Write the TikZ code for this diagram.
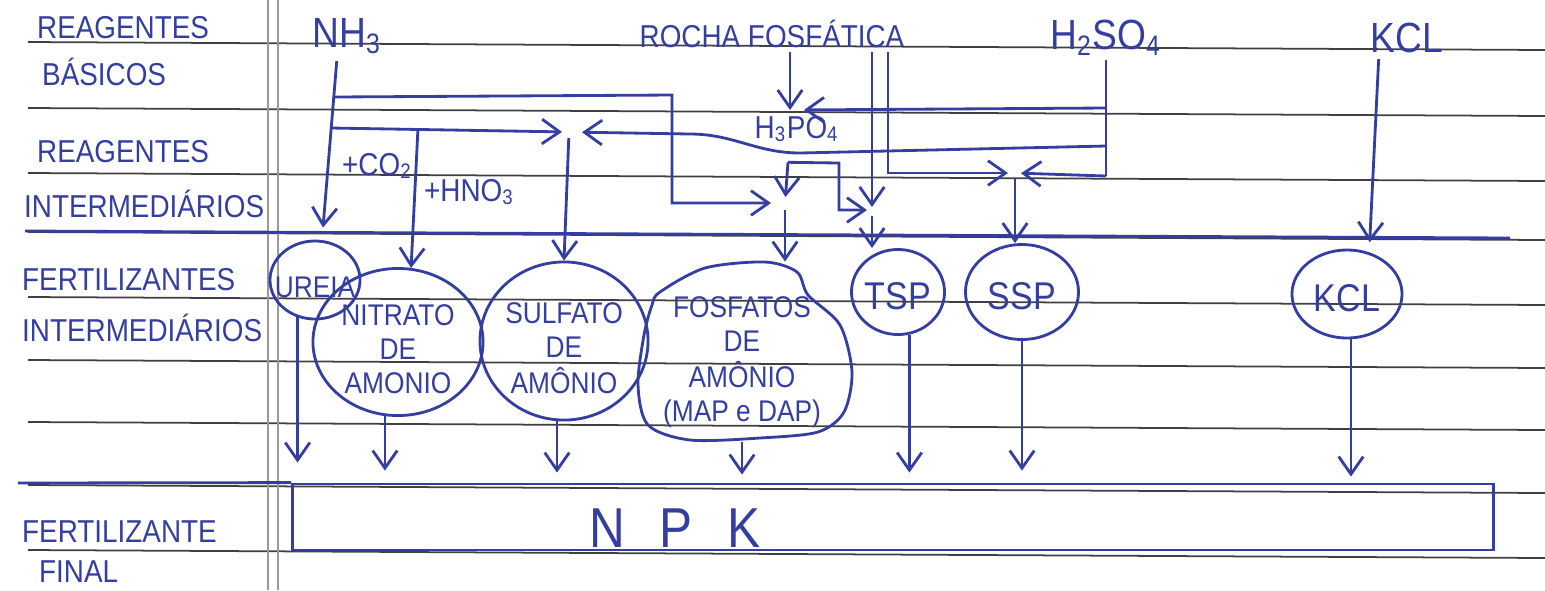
\documentclass[tikz,border=0pt]{standalone}
\usepackage{fontspec}
\setmainfont{Liberation Sans}[FakeStretch=0.88]
\usepackage{tikz}
\usetikzlibrary{calc,arrows.meta,shapes.geometric}
\definecolor{tinta}{RGB}{52,62,160}
\def\dentro#1{\smash{\makebox[0pt]{\raisebox{-5pt}{\begin{tabular}{@{}c@{}}#1\end{tabular}}}}}

\begin{document}
\begin{tikzpicture}[x=0.01cm, y=-0.01cm,
		pauta/.style={line width=0.5pt, color=black!75},
		margem/.style={line width=0.4pt, color=black!40},
		caneta/.style={line width=0.8pt, color=tinta},
		seta/.style={caneta, -{Straight Barb[length=5pt,width=7pt]}},
		rotulo/.style={text=tinta, inner sep=1pt, font=\fontsize{9}{11}\selectfont},
		quimico/.style={text=tinta, inner sep=1pt, font=\fontsize{12}{14}\selectfont},
		bola/.style={caneta, draw, ellipse, inner sep=0pt, font=\fontsize{8.5}{9.6}\selectfont},
		bolagrande/.style={bola, font=\fontsize{11}{13}\selectfont}]
		%%%%% START %%%%%
		
		\useasboundingbox (0,0) rectangle (1545,590);
		
		\foreach \y in {42,108,173,232,297,360,422,485,550}
			\draw[pauta] (28,\y) -- (1545,\y+8);
		\draw[margem] (268,0) -- (268,590);
		\draw[margem] (278,0) -- (278,590);
		\draw[caneta] (25,231) -- (1510,238);
		
		\node[rotulo, anchor=west] (reag1) at (33,28) {REAGENTES};
		\node[rotulo, anchor=west] (basicos) at (38,72) {BÁSICOS};
		\node[rotulo, anchor=west] (reag2) at (33,152) {REAGENTES};
		\node[rotulo, anchor=west] (interm1) at (20,204) {INTERMEDIÁRIOS};
		\node[rotulo, anchor=west] (fert1) at (18,280) {FERTILIZANTES};
		\node[rotulo, anchor=west] (interm2) at (18,328) {INTERMEDIÁRIOS};
		\node[rotulo, anchor=west] (fert2) at (18,532) {FERTILIZANTE};
		\node[rotulo, anchor=west] (final) at (35,572) {FINAL};
		
		\node[quimico] (nh3) at (347,36) {NH\textsubscript{3}};
		\node[rotulo] (rocha) at (772,34) {ROCHA FOSFÁTICA};
		\node[quimico] (h2so4) at (1106,38) {H\textsubscript{2}SO\textsubscript{4}};
		\node[quimico] (kcl0) at (1407,38) {KCL};
		\node[rotulo] (h3po4) at (797,129) {H\textsubscript{3}PO\textsubscript{4}};
		\node[rotulo, anchor=west] (co2) at (338,166) {+CO\textsubscript{2}};
		\node[rotulo, anchor=west] (hno3) at (420,192) {+HNO\textsubscript{3}};
		
		\coordinate (b1) at (334,97);
		\coordinate (b2) at (331,128);
		\coordinate (b3) at (418,128);
		\coordinate (jsulf) at (569,132);
		\coordinate (jh3) at (790,110);
		\coordinate (jfosf) at (785,203);
		\coordinate (jtsp) at (872,210);
		\coordinate (jssp) at (1015,173);
		\coordinate (hs1) at (1106,108);
		\coordinate (hs2) at (1106,146);
		\coordinate (hs3) at (1106,176);
		
		\node[bola, minimum width=0.9cm, minimum height=0.78cm] (ureia) at (315,280) {\dentro{UREIA}};
		\node[bola, minimum width=1.7cm, minimum height=1.47cm] (nitrato) at (398,342) {\dentro{NITRATO\\DE\\AMONIO}};
		\node[bola, minimum width=1.68cm, minimum height=1.58cm] (sulfato) at (564,341) {\dentro{SULFATO\\DE\\AMÔNIO}};
		\node[bola, draw=none, rectangle, minimum width=2.1cm, minimum height=1.78cm] (fosf) at (742,352) {\dentro{FOSFATOS\\DE\\AMÔNIO\\(MAP e DAP)}};
		\draw[caneta, shift={(fosf)}] plot[smooth cycle] coordinates {(-82,-60) (-37,-84) (23,-90) (55,-80) (66,-57) (98,-27) (110,20) (102,60) (76,80) (18,86) (-52,88) (-94,73) (-104,33) (-98,-17) (-90,-47)};
		\node[bolagrande, minimum width=0.93cm, minimum height=0.85cm] (tsp) at (898,292) {\dentro{TSP}};
		\node[bolagrande, minimum width=1.13cm, minimum height=0.95cm] (ssp) at (1022,292) {\dentro{SSP}};
		\node[bolagrande, minimum width=1.1cm, minimum height=0.88cm] (kcl) at (1347,294) {\dentro{KCL}};
		
		\node[caneta, draw, inner sep=0pt, minimum width=12cm, minimum height=0.66cm] (npk) at (893,517) {};
		\node[text=tinta, font=\fontsize{16}{18}\selectfont] (npkletras) at (675,528) {N\hspace{0.35cm}P\hspace{0.35cm}K};
		\draw[caneta] (18,483) -- (npk.north west);
		
		% amonia
		\draw[seta, shorten <=0.03cm] ([xshift=-0.1cm]nh3.south) -- ([xshift=0.08cm, yshift=0.12cm]ureia.north);
		\draw[seta, shorten >=0.14cm] (b1) -- (672,95) |- (jfosf);
		\draw[seta, shorten >=0.07cm] (b2) -- (jsulf);
		\draw[seta] (b3) -- (nitrato.80);
		\draw[seta, shorten <=0.06cm] (jsulf) -- (sulfato.north);
		
		% rocha e acido
		\draw[seta] (rocha.south -| jh3) -- (jh3);
		\draw[caneta] (h2so4.south) -- (hs3);
		\draw[seta, shorten >=0.14cm] (hs1) -- (jh3);
		\draw[seta, shorten >=0.13cm] (hs2) -- (800,153) to[out=180, in=0] (690,134) -- (jsulf);
		\draw[seta, shorten >=0.06cm] ($(h3po4.south)+(-9,16)$) -- (jfosf);
		\draw[seta, shorten >=0.05cm] ($(h3po4.south)+(-9,16)$) -- (839,163) |- (jtsp);
		\draw[seta, shorten >=0.03cm] (rocha.south -| jtsp) -- (jtsp);
		\draw[seta, shorten >=0.07cm] ($(rocha.south)+(116,0)$) |- (jssp);
		\draw[seta, shorten >=0.06cm] (hs3) -- (jssp);
		\draw[seta, shorten <=0.07cm] (jfosf) -- (jfosf |- fosf.north);
		\draw[seta, shorten <=0.06cm] (jtsp) -- (jtsp |- tsp.north);
		\draw[seta, shorten <=0.06cm] (jssp) -- (jssp |- ssp.north);
		\draw[seta, shorten >=0.1cm] ($(kcl0.south west)+(12,2)$) -- (kcl.62);
		
		% para o NPK
		\draw[seta, shorten >=0.2cm] (ureia.245) -- (ureia.245 |- npk.north);
		\draw[seta, shorten >=0.12cm] (nitrato.260) -- (nitrato.260 |- npk.north);
		\draw[seta, shorten >=0.1cm] (sulfato.265) -- (sulfato.265 |- npk.north);
		\draw[seta, shorten >=0.08cm] (fosf.south) -- (fosf.south |- npk.north);
		\draw[seta, shorten >=0.1cm] (tsp.285) -- (tsp.285 |- npk.north);
		\draw[seta, shorten >=0.12cm] (ssp.south) -- (ssp.south |- npk.north);
		\draw[seta, shorten >=0.06cm] (kcl.275) -- (kcl.275 |- npk.north);
		
		%%%%% END %%%%%
	\end{tikzpicture}
\end{document}
